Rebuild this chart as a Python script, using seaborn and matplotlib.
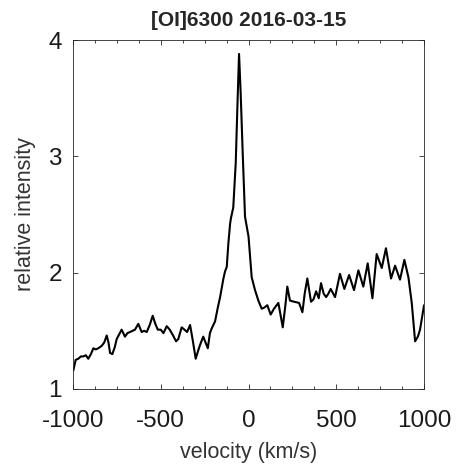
# [OI]6300 line profile, 2016-03-15
import numpy as np
import pandas as pd
import matplotlib
matplotlib.use('Agg')
import matplotlib.pyplot as plt
import seaborn as sns
from matplotlib.ticker import MultipleLocator

# velocity (km/s) and relative intensity
velocity = [-998, -985, -970, -955, -941, -927, -913, -898, -884, -870,
            -856, -837, -822, -808, -798, -789, -776, -762, -751, -737,
            -723, -704, -690, -675, -661, -647, -628, -609, -595, -580,
            -563, -546, -531, -517, -500, -485, -466, -449, -430, -413,
            -400, -381, -365, -350, -333, -318, -301, -289, -276, -258,
            -245, -232, -220, -210, -191, -175, -162, -143, -134, -124,
            -115, -105, -100, -87, -73, -62, -54, -45, -33, -20,
            0, 18, 37, 56, 75, 90, 107, 126, 145, 170,
            195, 210, 221, 236, 260, 288, 307, 320, 335, 356,
            370, 385, 400, 413, 428, 442, 455, 468, 493, 521,
            546, 573, 601, 626, 654, 679, 706, 730, 759, 783,
            812, 835, 863, 888, 911, 930, 949, 965, 977, 1000]
intensity = [1.16, 1.25, 1.26, 1.28, 1.28, 1.29, 1.26, 1.30, 1.35, 1.34,
             1.35, 1.37, 1.40, 1.46, 1.40, 1.31, 1.30, 1.36, 1.43, 1.47,
             1.51, 1.45, 1.48, 1.49, 1.50, 1.51, 1.56, 1.49, 1.50, 1.49,
             1.55, 1.63, 1.56, 1.51, 1.51, 1.48, 1.54, 1.51, 1.46, 1.41,
             1.43, 1.53, 1.51, 1.49, 1.55, 1.42, 1.26, 1.32, 1.38, 1.45,
             1.40, 1.35, 1.48, 1.52, 1.58, 1.70, 1.79, 1.95, 2.01, 2.05,
             2.25, 2.42, 2.47, 2.56, 2.94, 3.50, 3.88, 3.55, 3.02, 2.48,
             2.31, 1.96, 1.85, 1.76, 1.69, 1.70, 1.72, 1.64, 1.69, 1.74,
             1.53, 1.72, 1.88, 1.76, 1.75, 1.74, 1.66, 1.82, 1.95, 1.75,
             1.77, 1.84, 1.78, 1.91, 1.82, 1.79, 1.82, 1.86, 1.79, 1.99,
             1.86, 1.98, 1.85, 2.02, 1.88, 2.08, 1.78, 2.16, 2.04, 2.21,
             1.95, 2.06, 1.94, 2.11, 1.96, 1.74, 1.41, 1.45, 1.51, 1.72]

df = pd.DataFrame({"velocity": velocity, "intensity": intensity})

sns.set_style("ticks")
plt.rcParams['font.family'] = ['Liberation Sans', 'DejaVu Sans']
plt.rcParams['axes.unicode_minus'] = False

fig = plt.figure(figsize=(4.72, 4.69), dpi=100)
ax = fig.add_axes([0.1547, 0.1706, 0.7437, 0.7441])

sns.lineplot(data=df, x="velocity", y="intensity", ax=ax, color="black",
             linewidth=1.5, sort=False)

ax.set_xlim(-1000, 1000)
ax.set_ylim(1, 4)
ax.xaxis.set_major_locator(MultipleLocator(500))
ax.xaxis.set_minor_locator(MultipleLocator(125))
ax.yaxis.set_major_locator(MultipleLocator(1))

ax.tick_params(which='both', direction='in', top=True, right=True,
               colors='#262626', labelcolor='#1a1a1a', labelsize=17.5)
ax.tick_params(which='major', length=3.5, width=0.6)
ax.tick_params(which='minor', length=2.5, width=0.6)
ax.tick_params(axis='x', pad=15)
ax.tick_params(axis='y', pad=8)
for sp in ax.spines.values():
    sp.set_color('#262626')
    sp.set_linewidth(0.6)

ax.set_xlabel("velocity (km/s)", fontsize=15.5, color='#333333', labelpad=7)
ax.set_ylabel("relative intensity", fontsize=15.5, color='#333333', labelpad=9)
ax.set_title("[OI]6300 2016-03-15", fontsize=15, fontweight='bold', pad=10)

fig.savefig("out.png", dpi=100)
